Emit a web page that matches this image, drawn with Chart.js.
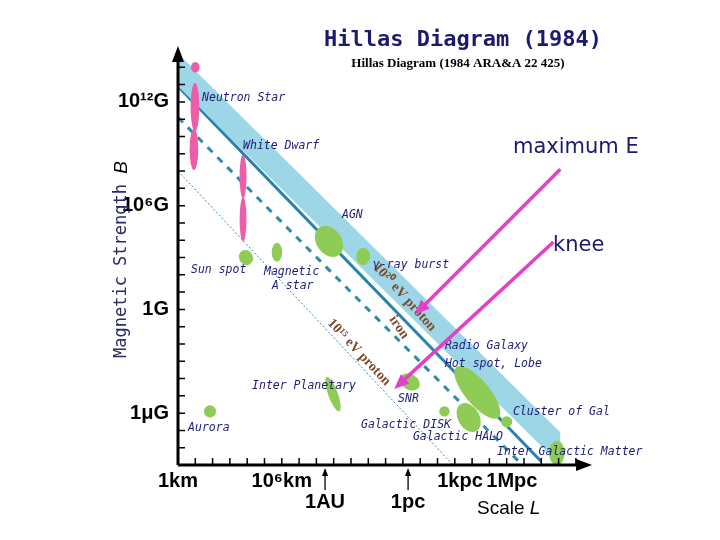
<!DOCTYPE html>
<html>
<head>
<meta charset="utf-8">
<script src="https://cdn.jsdelivr.net/npm/chart.js@4/dist/chart.umd.min.js"></script>
<style>
  body { margin: 0; background: #fff; }
  #wrap { width: 720px; height: 540px; }
</style>
</head>
<body>
<div id="wrap"><canvas id="hillas"></canvas></div>
<script>
// x = log10(size / km), y = log10(B / gauss)
const bandUpper = [{ x: 0, y: 14.8 }, { x: 23.0, y: -8.0 }];
const bandLower = [{ x: 0, y: 12.9 }, { x: 22.1, y: -9.0 }];
const lineIron = [{ x: 0, y: 12.9 }, { x: 21.0, y: -8.8 }];
const line20eV = [{ x: 0, y: 11.1 }, { x: 19.7, y: -8.8 }];
const line15eV = [{ x: 0, y: 8.0 }, { x: 15.9, y: -9.0 }];

// objects: center and half extents in decades
const blobX  = [1.0, 0.98, 0.92, 3.76, 3.76, 3.93, 5.72, 8.73, 10.7, 8.96, 13.4, 1.85, 15.4, 16.8, 17.3, 19.0, 21.9];
const blobY  = [14.0, 11.7, 9.25, 7.69, 5.2, 3.0, 3.3, 3.93, 3.06, -4.9, -4.2, -5.9, -5.9, -6.25, -4.8, -6.5, -8.3];
const blobRx = [0.25, 0.25, 0.25, 0.2, 0.2, 0.4, 0.3, 0.72, 0.4, 0.28, 0.62, 0.35, 0.3, 0.62, 0.7, 0.32, 0.45];
const blobRy = [0.3, 1.4, 1.2, 1.27, 1.27, 0.45, 0.55, 0.98, 0.5, 1.05, 0.45, 0.35, 0.3, 0.9, 1.9, 0.32, 0.7];
const blobTilt = [0, 0, 0, 0, 0, -30, 0, -35, 0, -20, 30, 0, 0, -30, -40, 0, 0];
const blobPink = [true, true, true, true, true, false, false, false, false, false, false, false, false, false, false, false, false];

const labelText = ['Neutron Star', 'White Dwarf', 'AGN', 'Sun spot', 'Magnetic', 'A star', 'γ-ray burst',
  'Radio Galaxy', 'Hot spot, Lobe', 'Inter Planetary', 'SNR', 'Galactic DISK', 'Galactic HALO',
  'Cluster of Gal', 'Inter Galactic Matter', 'Aurora'];
const labelX = [1.39, 3.76, 9.48, 0.75, 4.97, 5.43, 11.27, 15.43, 15.43, 4.28, 12.72, 10.58, 13.58, 19.36, 18.44, 0.58];
const labelY = [12.25, 9.42, 5.43, 2.25, 2.14, 1.33, 2.54, -2.14, -3.18, -4.45, -5.2, -6.7, -7.4, -5.95, -8.27, -6.88];

const lineLabelText = ['10²⁰ eV proton', 'iron', '10¹⁵ eV proton'];
const lineLabelX = [13.1, 12.77, 10.46];
const lineLabelY = [0.7, -1.04, -2.49];
const lineLabelAngle = [48, 55, 47];

const arrowFrom = [{ x: 22.1, y: 8.1 }, { x: 21.7, y: 3.9 }];
const arrowTo = [{ x: 13.7, y: -0.3 }, { x: 12.5, y: -4.6 }];
const arrowText = ['maximum E', 'knee'];

const yTickVals = [12, 6, 0, -6];
const yTickText = ['10¹²G', '10⁶G', '1G', '1μG'];
const xTickVals = [0, 6, 16.3, 19.3];
const xTickText = ['1km', '10⁶km', '1kpc', '1Mpc'];
const xMarkVals = [8.5, 13.3];
const xMarkText = ['1AU', '1pc'];

const hillasPlugin = {
  id: 'hillas',
  afterDatasetsDraw(chart) {
    const { ctx, chartArea: a, scales: { x, y } } = chart;
    ctx.save();
    // blobs
    for (let i = 0; i < blobX.length; i++) {
      const cx = x.getPixelForValue(blobX[i]);
      const cy = y.getPixelForValue(blobY[i]);
      const rx = x.getPixelForValue(blobX[i] + blobRx[i]) - cx;
      const ry = y.getPixelForValue(blobY[i] - blobRy[i]) - cy;
      ctx.fillStyle = blobPink[i] ? '#ec5fa8' : '#8fcc55';
      ctx.beginPath();
      ctx.ellipse(cx, cy, rx, ry, blobTilt[i] * Math.PI / 180, 0, Math.PI * 2);
      ctx.fill();
    }

    // axes
    ctx.strokeStyle = '#000';
    ctx.fillStyle = '#000';
    ctx.lineWidth = 3;
    ctx.beginPath();
    ctx.moveTo(a.left, a.bottom); ctx.lineTo(a.left, a.top + 8);
    ctx.moveTo(a.left, a.bottom); ctx.lineTo(a.right - 8, a.bottom);
    ctx.stroke();
    ctx.beginPath();
    ctx.moveTo(a.left, a.top - 4); ctx.lineTo(a.left - 6, a.top + 12); ctx.lineTo(a.left + 6, a.top + 12); ctx.fill();
    ctx.beginPath();
    ctx.moveTo(a.right + 4, a.bottom); ctx.lineTo(a.right - 12, a.bottom - 6); ctx.lineTo(a.right - 12, a.bottom + 6); ctx.fill();
    ctx.lineWidth = 1.5;
    ctx.beginPath();
    for (let v = 1; v <= 23; v++) {
      const px = x.getPixelForValue(v);
      ctx.moveTo(px, a.bottom); ctx.lineTo(px, a.bottom - 7);
    }
    for (let v = -8; v <= 14; v++) {
      const py = y.getPixelForValue(v);
      ctx.moveTo(a.left, py); ctx.lineTo(a.left + 7, py);
    }
    ctx.stroke();

    // tick labels
    ctx.font = 'bold 20px "Liberation Sans Narrow", "Liberation Sans", sans-serif';
    ctx.textBaseline = 'middle';
    ctx.textAlign = 'right';
    yTickVals.forEach((v, i) => ctx.fillText(yTickText[i], a.left - 9, y.getPixelForValue(v)));
    ctx.textAlign = 'center';
    xTickVals.forEach((v, i) => ctx.fillText(xTickText[i], x.getPixelForValue(v), a.bottom + 16));
    xMarkVals.forEach((v, i) => {
      const px = x.getPixelForValue(v);
      ctx.fillText(xMarkText[i], px, a.bottom + 37);
      ctx.lineWidth = 1.3;
      ctx.beginPath(); ctx.moveTo(px, a.bottom + 25); ctx.lineTo(px, a.bottom + 5); ctx.stroke();
      ctx.beginPath(); ctx.moveTo(px, a.bottom + 3); ctx.lineTo(px - 3, a.bottom + 11); ctx.lineTo(px + 3, a.bottom + 11); ctx.fill();
    });

    // axis titles
    ctx.font = '19px "Liberation Sans", sans-serif';
    ctx.textAlign = 'left';
    ctx.fillText('Scale ', 477, 509);
    const sw = ctx.measureText('Scale ').width;
    ctx.font = 'italic 19px "Liberation Sans", sans-serif';
    ctx.fillText('L', 477 + sw, 509);
    ctx.save();
    ctx.translate(122, 358);
    ctx.rotate(-Math.PI / 2);
    ctx.fillStyle = '#2b2b66';
    ctx.font = '17px "DejaVu Sans Mono", monospace';
    ctx.textAlign = 'left';
    ctx.fillText('Magnetic Strength ', 0, 0);
    const mw = ctx.measureText('Magnetic Strength ').width;
    ctx.fillStyle = '#000';
    ctx.font = 'italic 19px "Liberation Sans", sans-serif';
    ctx.fillText('B', mw, 0);
    ctx.restore();

    // object labels
    ctx.fillStyle = '#1c1c78';
    ctx.font = 'italic 11.5px "DejaVu Sans Mono", monospace';
    ctx.textAlign = 'left';
    labelText.forEach((t, i) => ctx.fillText(t, x.getPixelForValue(labelX[i]), y.getPixelForValue(labelY[i])));

    // rotated line labels
    ctx.fillStyle = '#7a4a2a';
    ctx.font = 'bold 14px "Liberation Serif", serif';
    ctx.textAlign = 'center';
    lineLabelText.forEach((t, i) => {
      ctx.save();
      ctx.translate(x.getPixelForValue(lineLabelX[i]), y.getPixelForValue(lineLabelY[i]));
      ctx.rotate(lineLabelAngle[i] * Math.PI / 180);
      ctx.fillText(t, 0, 0);
      ctx.restore();
    });

    // pink arrows
    ctx.strokeStyle = '#e43fc6';
    ctx.fillStyle = '#e43fc6';
    ctx.lineWidth = 3.5;
    arrowFrom.forEach((f, i) => {
      const x0 = x.getPixelForValue(f.x), y0 = y.getPixelForValue(f.y);
      const x1 = x.getPixelForValue(arrowTo[i].x), y1 = y.getPixelForValue(arrowTo[i].y);
      const ang = Math.atan2(y1 - y0, x1 - x0);
      ctx.beginPath(); ctx.moveTo(x0, y0); ctx.lineTo(x1 - 10 * Math.cos(ang), y1 - 10 * Math.sin(ang)); ctx.stroke();
      ctx.beginPath();
      ctx.moveTo(x1, y1);
      ctx.lineTo(x1 - 16 * Math.cos(ang - 0.4), y1 - 16 * Math.sin(ang - 0.4));
      ctx.lineTo(x1 - 16 * Math.cos(ang + 0.4), y1 - 16 * Math.sin(ang + 0.4));
      ctx.fill();
    });
    ctx.fillStyle = '#1a1a6e';
    ctx.font = '21px "DejaVu Sans", sans-serif';
    ctx.textAlign = 'left';
    ctx.fillText(arrowText[0], 513, 148);
    ctx.fillText(arrowText[1], 553, 246);

    // titles
    ctx.textAlign = 'center';
    ctx.font = 'bold 22px "DejaVu Sans Mono", monospace';
    ctx.fillText('Hillas Diagram (1984)', 463, 40);
    ctx.fillStyle = '#000';
    ctx.font = 'bold 13px "Liberation Serif", serif';
    ctx.fillText('Hillas Diagram (1984 ARA&A 22 425)', 458, 64);
    ctx.restore();
  }
};

new Chart(document.getElementById('hillas'), {
  type: 'scatter',
  data: {
    datasets: [
      { data: bandUpper, showLine: true, borderWidth: 0, borderColor: 'rgba(0,0,0,0)', pointRadius: 0,
        backgroundColor: '#9dd6e6', fill: 1 },
      { data: bandLower, showLine: true, borderWidth: 0, borderColor: 'rgba(0,0,0,0)', pointRadius: 0 },
      { data: lineIron, showLine: true, borderWidth: 3, borderColor: '#2683b0', pointRadius: 0 },
      { data: line20eV, showLine: true, borderWidth: 3, borderColor: '#2e8ca8', borderDash: [7, 7], pointRadius: 0 },
      { data: line15eV, showLine: true, borderWidth: 1, borderColor: '#3a8aa8', borderDash: [2, 2], pointRadius: 0 }
    ]
  },
  options: {
    responsive: true,
    maintainAspectRatio: false,
    animation: false,
    layout: { padding: { left: 178, right: 132, top: 50, bottom: 75 } },
    plugins: { legend: { display: false }, tooltip: { enabled: false } },
    scales: {
      x: { type: 'linear', min: 0, max: 23.7, display: false },
      y: { type: 'linear', min: -9, max: 15, display: false }
    }
  },
  plugins: [hillasPlugin]
});
</script>
</body>
</html>
